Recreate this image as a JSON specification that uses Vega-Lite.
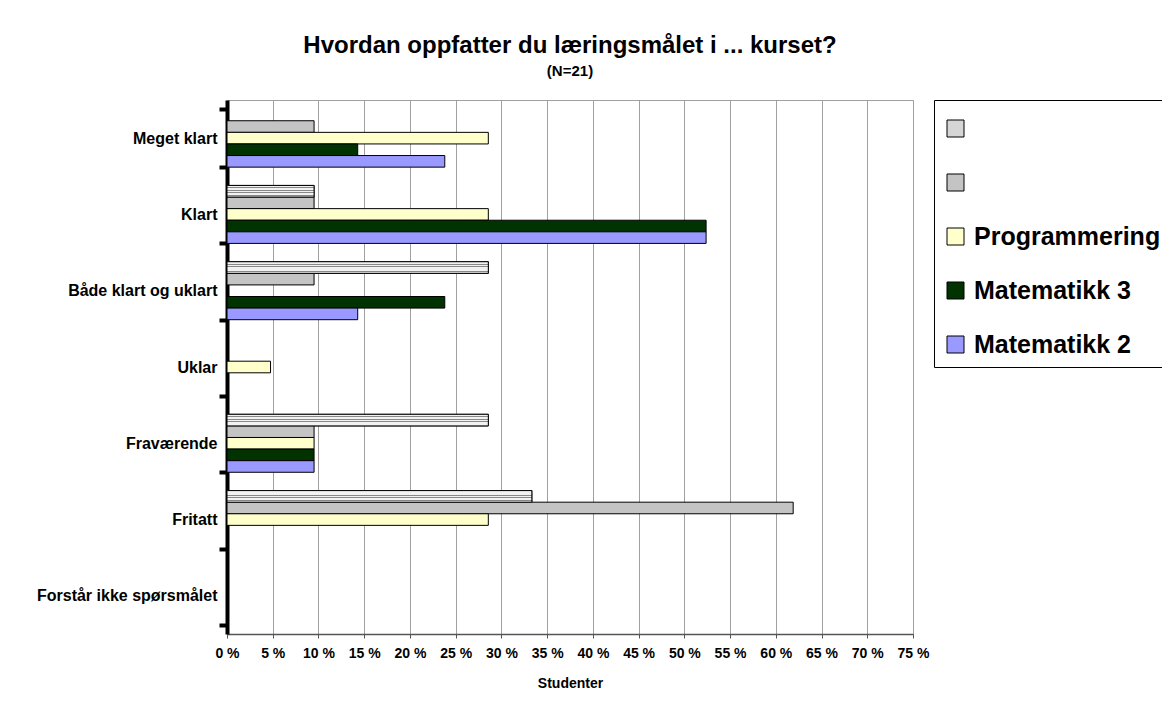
{
  "$schema": "https://vega.github.io/schema/vega-lite/v6.json",
  "width": 686,
  "height": 534,
  "autosize": {"type": "none"},
  "padding": {"left": 227, "top": 100, "right": 249, "bottom": 77},
  "background": "white",
  "title": {
    "text": "Hvordan oppfatter du læringsmålet i ... kurset?",
    "subtitle": "(N=21)",
    "anchor": "middle",
    "frame": "group",
    "font": "Liberation Sans",
    "fontSize": 24,
    "fontWeight": "bold",
    "color": "black",
    "subtitleFont": "Liberation Sans",
    "subtitleFontSize": 15,
    "subtitleFontWeight": "bold",
    "subtitleColor": "black",
    "subtitlePadding": 6,
    "offset": 13
  },
  "data": {
    "values": [
      {"kategori": "Klart", "serie": "Serie A", "andel": 9.52},
      {"kategori": "Både klart og uklart", "serie": "Serie A", "andel": 28.57},
      {"kategori": "Fraværende", "serie": "Serie A", "andel": 28.57},
      {"kategori": "Fritatt", "serie": "Serie A", "andel": 33.33},
      {"kategori": "Meget klart", "serie": "Serie B", "andel": 9.52},
      {"kategori": "Klart", "serie": "Serie B", "andel": 9.52},
      {"kategori": "Både klart og uklart", "serie": "Serie B", "andel": 9.52},
      {"kategori": "Fraværende", "serie": "Serie B", "andel": 9.52},
      {"kategori": "Fritatt", "serie": "Serie B", "andel": 61.9},
      {"kategori": "Meget klart", "serie": "Programmering", "andel": 28.57},
      {"kategori": "Klart", "serie": "Programmering", "andel": 28.57},
      {"kategori": "Uklar", "serie": "Programmering", "andel": 4.76},
      {"kategori": "Fraværende", "serie": "Programmering", "andel": 9.52},
      {"kategori": "Fritatt", "serie": "Programmering", "andel": 28.57},
      {"kategori": "Meget klart", "serie": "Matematikk 3", "andel": 14.29},
      {"kategori": "Klart", "serie": "Matematikk 3", "andel": 52.38},
      {"kategori": "Både klart og uklart", "serie": "Matematikk 3", "andel": 23.81},
      {"kategori": "Fraværende", "serie": "Matematikk 3", "andel": 9.52},
      {"kategori": "Meget klart", "serie": "Matematikk 2", "andel": 23.81},
      {"kategori": "Klart", "serie": "Matematikk 2", "andel": 52.38},
      {"kategori": "Både klart og uklart", "serie": "Matematikk 2", "andel": 14.29},
      {"kategori": "Fraværende", "serie": "Matematikk 2", "andel": 9.52}
    ]
  },
  "encoding": {
    "y": {
      "field": "kategori",
      "type": "nominal",
      "scale": {
        "domain": ["Meget klart", "Klart", "Både klart og uklart", "Uklar", "Fraværende", "Fritatt", "Forstår ikke spørsmålet"],
        "paddingInner": 0.24,
        "paddingOuter": 0.12
      },
      "axis": {
        "title": null,
        "tickBand": "extent",
        "domainColor": "black",
        "domainWidth": 4,
        "tickColor": "black",
        "tickWidth": 4,
        "tickSize": 8,
        "labelFont": "Liberation Sans",
        "labelFontSize": 16,
        "labelFontWeight": "bold",
        "labelColor": "black",
        "labelPadding": 2,
        "labelLimit": 300
      }
    },
    "yOffset": {
      "field": "serie",
      "type": "nominal",
      "scale": {"domain": ["Serie A", "Serie B", "Programmering", "Matematikk 3", "Matematikk 2"], "paddingInner": 0, "paddingOuter": 0}
    },
    "x": {
      "field": "andel",
      "type": "quantitative",
      "scale": {"domain": [0, 75], "nice": false, "zero": true},
      "axis": {
        "title": "Studenter",
        "titleFont": "Liberation Sans",
        "titleFontSize": 14,
        "titleFontWeight": "bold",
        "titleColor": "black",
        "titlePadding": 16,
        "values": [0, 5, 10, 15, 20, 25, 30, 35, 40, 45, 50, 55, 60, 65, 70, 75],
        "labelExpr": "datum.value + ' %'",
        "labelFont": "Liberation Sans",
        "labelFontSize": 14,
        "labelFontWeight": "bold",
        "labelColor": "black",
        "labelPadding": 8,
        "labelFlush": false,
        "labelOverlap": false,
        "tickColor": "#555555",
        "tickSize": 4,
        "domainColor": "#555555",
        "domainWidth": 1.5,
        "grid": true,
        "gridColor": "#a0a0a0",
        "gridWidth": 1
      }
    }
  },
  "layer": [
    {
      "mark": {"type": "bar", "stroke": "black", "strokeWidth": 1, "opacity": 1},
      "encoding": {
        "color": {
          "field": "serie",
          "type": "nominal",
          "scale": {
            "domain": ["Serie A", "Serie B", "Programmering", "Matematikk 3", "Matematikk 2"],
            "range": ["#d6d6d6", "#c4c4c4", "#FFFFCC", "#003300", "#9999FF"]
          },
          "legend": {
            "title": " ",
            "titleFontSize": 7,
            "titlePadding": 0,
            "orient": "none",
            "legendX": 707,
            "legendY": 0,
            "symbolType": "square",
            "symbolSize": 289,
            "symbolStrokeColor": "black",
            "symbolStrokeWidth": 1,
            "symbolOpacity": 1,
            "labelExpr": "indexof(['Serie A','Serie B'], datum.label) >= 0 ? '' : datum.label",
            "labelFont": "Liberation Sans",
            "labelFontSize": 25,
            "labelFontWeight": "bold",
            "labelColor": "black",
            "labelOffset": 6,
            "labelLimit": 300,
            "rowPadding": 28,
            "padding": 9,
            "strokeColor": "black",
            "fillColor": "white"
          }
        }
      }
    },
    {
      "transform": [{"filter": "datum.serie == 'Serie A'"}],
      "mark": {
        "type": "bar",
        "stroke": "black",
        "strokeWidth": 1,
        "opacity": 1,
        "fill": {
          "gradient": "linear",
          "x1": 0, "y1": 0, "x2": 0, "y2": 1,
          "stops": [
            {"offset": 0, "color": "#f2f2f2"},
            {"offset": 0.17, "color": "#f2f2f2"},
            {"offset": 0.17, "color": "#888888"},
            {"offset": 0.24, "color": "#888888"},
            {"offset": 0.24, "color": "#f2f2f2"},
            {"offset": 0.38, "color": "#f2f2f2"},
            {"offset": 0.38, "color": "#888888"},
            {"offset": 0.45, "color": "#888888"},
            {"offset": 0.45, "color": "#f2f2f2"},
            {"offset": 0.59, "color": "#f2f2f2"},
            {"offset": 0.59, "color": "#888888"},
            {"offset": 0.66, "color": "#888888"},
            {"offset": 0.66, "color": "#f2f2f2"},
            {"offset": 0.8, "color": "#f2f2f2"},
            {"offset": 0.8, "color": "#888888"},
            {"offset": 0.87, "color": "#888888"},
            {"offset": 0.87, "color": "#f2f2f2"},
            {"offset": 1, "color": "#f2f2f2"}
          ]
        }
      }
    }
  ],
  "config": {
    "view": {"stroke": "#a0a0a0", "strokeWidth": 1},
    "font": "Liberation Sans"
  }
}
